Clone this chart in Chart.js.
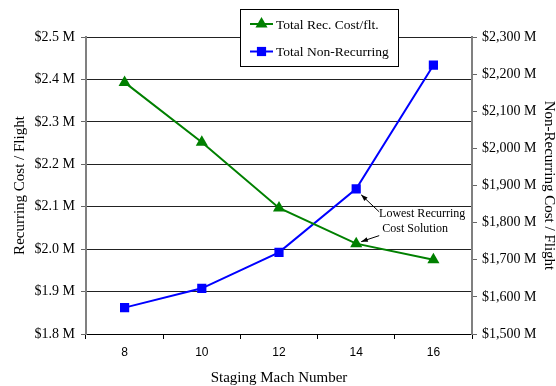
<!DOCTYPE html>
<html>
<head>
<meta charset="utf-8">
<script src="https://cdn.jsdelivr.net/npm/chart.js@4.4.1/dist/chart.umd.min.js"></script>
<style>
    body { margin: 0; background: #fff; }
    #wrap { width: 556px; height: 386px; }
</style>
</head>
<body>
<div id="wrap"><canvas id="grafico" width="556" height="386"></canvas></div>
<script>
// Dados do gráfico
const machNumbers = ['8', '10', '12', '14', '16'];
const recCostPerFlight = [2.393, 2.252, 2.097, 2.013, 1.975];   // $M, eixo esquerdo
const nonRecurringCost = [1571, 1623, 1720, 1891, 2224];        // $M, eixo direito
const seriesLabels = ['Total Rec. Cost/flt.', 'Total Non-Recurring'];
const noteLines = ['Lowest Recurring', 'Cost Solution'];
const noteIndex = 3; // Mach 14

const serif = 'Liberation Serif, Times New Roman, serif';

function formatLeft(v) {
    return '$' + v.toFixed(1) + ' M';
}

function formatRight(v) {
    return '$' + v.toLocaleString('en-US') + ' M';
}

function drawMarker(ctx, style, x, y, r, color) {
    ctx.save();
    ctx.fillStyle = color;
    ctx.beginPath();
    if (style === 'triangle') {
        ctx.moveTo(x, y - r);
        ctx.lineTo(x + r * Math.sin(Math.PI * 2 / 3), y - r * Math.cos(Math.PI * 2 / 3));
        ctx.lineTo(x - r * Math.sin(Math.PI * 2 / 3), y - r * Math.cos(Math.PI * 2 / 3));
    } else {
        const s = Math.SQRT1_2 * r;
        ctx.rect(x - s, y - s, 2 * s, 2 * s);
    }
    ctx.closePath();
    ctx.fill();
    ctx.restore();
}

// Legenda em caixa sobre o gráfico
const legendaCaixa = {
    id: 'legendaCaixa',
    afterDraw(chart) {
        const ctx = chart.ctx;
        const bx = 240, by = 9, bw = 158, bh = 57;
        ctx.save();
        ctx.fillStyle = '#fff';
        ctx.fillRect(bx, by, bw, bh);
        ctx.strokeStyle = '#000';
        ctx.lineWidth = 1;
        ctx.strokeRect(bx + 0.5, by + 0.5, bw, bh);
        chart.data.datasets.forEach((ds, i) => {
            const y = by + 15 + i * 27.5;
            ctx.strokeStyle = ds.borderColor;
            ctx.lineWidth = 2;
            ctx.beginPath();
            ctx.moveTo(bx + 10, y);
            ctx.lineTo(bx + 33, y);
            ctx.stroke();
            drawMarker(ctx, ds.pointStyle, bx + 21.5, y, ds.pointRadius, ds.backgroundColor);
            ctx.fillStyle = '#000';
            ctx.font = '13.5px ' + serif;
            ctx.textAlign = 'left';
            ctx.textBaseline = 'middle';
            ctx.fillText(ds.label, bx + 36, y + 1);
        });
        ctx.restore();
    }
};

// Nota com setas para Mach 14
const notaSolucao = {
    id: 'notaSolucao',
    afterDatasetsDraw(chart) {
        const ctx = chart.ctx;
        const g = chart.getDatasetMeta(0).data[noteIndex];
        const b = chart.getDatasetMeta(1).data[noteIndex];
        const tx = b.x + 23;
        const arrows = [
            [tx, b.y + 23, b.x + 5, b.y + 6],
            [tx, g.y - 8, g.x + 5, g.y - 2]
        ];
        ctx.save();
        ctx.strokeStyle = '#000';
        ctx.fillStyle = '#000';
        ctx.lineWidth = 1;
        arrows.forEach(([x1, y1, x2, y2]) => {
            const ang = Math.atan2(y2 - y1, x2 - x1);
            ctx.beginPath();
            ctx.moveTo(x1, y1);
            ctx.lineTo(x2, y2);
            ctx.stroke();
            ctx.beginPath();
            ctx.moveTo(x2, y2);
            ctx.lineTo(x2 - 7 * Math.cos(ang - 0.35), y2 - 7 * Math.sin(ang - 0.35));
            ctx.lineTo(x2 - 7 * Math.cos(ang + 0.35), y2 - 7 * Math.sin(ang + 0.35));
            ctx.closePath();
            ctx.fill();
        });
        ctx.font = '12px ' + serif;
        ctx.textAlign = 'center';
        ctx.textBaseline = 'middle';
        ctx.fillText(noteLines[0], b.x + 66, b.y + 25);
        ctx.fillText(noteLines[1], b.x + 59, b.y + 40);
        ctx.restore();
    }
};

new Chart(document.getElementById('grafico'), {
    type: 'line',
    data: {
        labels: machNumbers,
        datasets: [
            {
                label: seriesLabels[0],
                data: recCostPerFlight,
                yAxisID: 'y',
                borderColor: '#008000',
                backgroundColor: '#008000',
                borderWidth: 2,
                pointStyle: 'triangle',
                pointRadius: 7,
                pointBorderWidth: 0,
                tension: 0
            },
            {
                label: seriesLabels[1],
                data: nonRecurringCost,
                yAxisID: 'y2',
                borderColor: '#0000ff',
                backgroundColor: '#0000ff',
                borderWidth: 2,
                pointStyle: 'rect',
                pointRadius: 6.5,
                pointBorderWidth: 0,
                tension: 0
            }
        ]
    },
    options: {
        responsive: false,
        devicePixelRatio: 1,
        animation: false,
        layout: { padding: { top: 37, left: 0, right: 0, bottom: 0 } },
        plugins: {
            legend: { display: false },
            tooltip: { enabled: false }
        },
        scales: {
            x: {
                type: 'category',
                offset: true,
                afterFit: s => { s.height = 52; },
                grid: {
                    offset: true,
                    drawOnChartArea: false,
                    tickLength: 5,
                    color: '#000'
                },
                border: { color: '#000', width: 1 },
                ticks: {
                    color: '#000',
                    padding: 6,
                    font: { family: 'Liberation Sans, Arial, sans-serif', size: 12 }
                },
                title: {
                    display: true,
                    text: 'Staging Mach Number',
                    color: '#000',
                    padding: 0,
                    font: { family: serif, size: 15, lineHeight: 1 }
                }
            },
            y: {
                position: 'left',
                min: 1.8,
                max: 2.5,
                afterFit: s => { s.width = 86; },
                grid: {
                    color: '#222',
                    tickLength: 5,
                    tickColor: '#666'
                },
                border: { color: '#808080', width: 2 },
                ticks: {
                    stepSize: 0.1,
                    padding: 6,
                    color: '#000',
                    font: { family: serif, size: 14 },
                    callback: v => formatLeft(v)
                },
                title: {
                    display: true,
                    text: 'Recurring Cost / Flight',
                    color: '#000',
                    padding: { top: 12.5, bottom: 0 },
                    font: { family: serif, size: 15, lineHeight: 1 }
                }
            },
            y2: {
                position: 'right',
                min: 1500,
                max: 2300,
                afterFit: s => { s.width = 84; },
                grid: {
                    drawOnChartArea: false,
                    tickLength: 5,
                    color: '#666'
                },
                border: { color: '#808080', width: 2 },
                ticks: {
                    stepSize: 100,
                    padding: 5,
                    color: '#000',
                    font: { family: serif, size: 14 },
                    callback: v => formatRight(v)
                },
                title: {
                    display: true,
                    text: 'Non-Recurring Cost / Flight',
                    color: '#000',
                    padding: { top: 0, bottom: 0 },
                    font: { family: serif, size: 15, lineHeight: 1 }
                }
            }
        }
    },
    plugins: [notaSolucao, legendaCaixa]
});
</script>
</body>
</html>
